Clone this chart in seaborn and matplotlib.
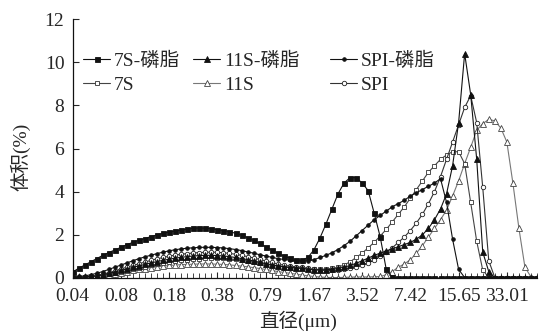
import numpy as np
import pandas as pd
import matplotlib
matplotlib.use("Agg")
import matplotlib.pyplot as plt
import seaborn as sns
from matplotlib.lines import Line2D

# ---------------- data ----------------
tick_labels = ["0.04", "0.08", "0.18", "0.38", "0.79", "1.67", "3.52", "7.42", "15.65", "33.01"]

s7S_pl = [0.28, 0.45, 0.6, 0.75, 0.9, 1.05, 1.18, 1.3, 1.42, 1.55,
          1.65, 1.75, 1.83, 1.92, 2.0, 2.07, 2.13, 2.18, 2.22, 2.26,
          2.3, 2.32, 2.3, 2.28, 2.24, 2.2, 2.15, 2.07, 1.98, 1.87,
          1.74, 1.6, 1.45, 1.3, 1.15, 1.02, 0.92, 0.85,
          0.82, 0.95, 1.3, 1.85, 2.5, 3.2, 3.9, 4.4, 4.65, 4.65,
          4.4, 4.05, 3.0, 1.9, 0.4, 0.03, 0, 0, 0, 0,
          0, 0, 0, 0, 0, 0, 0, 0, 0, 0,
          0, 0, 0, 0, 0, 0, 0, 0, 0, 0]

s11S_pl = [0.02, 0.03, 0.05, 0.07, 0.1, 0.15, 0.21, 0.28, 0.35, 0.42,
           0.49, 0.56, 0.63, 0.7, 0.76, 0.82, 0.87, 0.92, 0.96, 0.99,
           1.02, 1.04, 1.05, 1.05, 1.04, 1.02, 0.99, 0.95, 0.9, 0.85,
           0.79, 0.73, 0.67, 0.61, 0.56, 0.52, 0.49, 0.47,
           0.45, 0.4, 0.38, 0.37, 0.38, 0.4, 0.45, 0.5, 0.58, 0.68,
           0.8, 0.92, 1.05, 1.15, 1.25, 1.35, 1.45, 1.55, 1.65, 1.8,
           2.0, 2.3, 2.7, 3.2, 3.9, 5.2, 7.2, 10.4, 8.5, 5.5,
           1.2, 0.3, 0, 0, 0, 0, 0, 0, 0, 0]

sSPI_pl = [0.05, 0.07, 0.1, 0.15, 0.22, 0.3, 0.4, 0.5, 0.6, 0.7,
           0.8, 0.9, 0.98, 1.06, 1.13, 1.2, 1.26, 1.31, 1.35, 1.38,
           1.4, 1.42, 1.42, 1.42, 1.41, 1.39, 1.36, 1.32, 1.27, 1.21,
           1.15, 1.08, 1.02, 0.96, 0.9, 0.86, 0.82, 0.8,
           0.78, 0.8, 0.85, 0.95, 1.05, 1.17, 1.32, 1.5, 1.7, 1.95,
           2.2, 2.45, 2.7, 2.9, 3.1, 3.3, 3.45, 3.6, 3.8, 3.95,
           4.1, 4.25, 4.4, 4.6, 3.5, 1.8, 0.4, 0.02, 0, 0,
           0, 0, 0, 0, 0, 0, 0, 0, 0, 0]

s7S = [0.01, 0.02, 0.03, 0.05, 0.08, 0.12, 0.17, 0.22, 0.28, 0.34,
       0.4, 0.46, 0.52, 0.58, 0.64, 0.69, 0.74, 0.78, 0.82, 0.85,
       0.88, 0.9, 0.91, 0.92, 0.92, 0.91, 0.89, 0.86, 0.83, 0.79,
       0.74, 0.69, 0.64, 0.59, 0.55, 0.51, 0.48, 0.46,
       0.45, 0.42, 0.4, 0.4, 0.42, 0.45, 0.5, 0.6, 0.75, 0.95,
       1.15, 1.4, 1.65, 1.95, 2.25, 2.6, 2.95, 3.3, 3.7, 4.1,
       4.5, 4.9, 5.2, 5.5, 5.7, 5.85, 5.85, 5.3, 3.5, 1.7,
       0.37, 0.02, 0, 0, 0, 0, 0, 0, 0, 0]

s11S = [0.0, 0.0, 0.02, 0.05, 0.08, 0.12, 0.16, 0.2, 0.25, 0.3,
        0.35, 0.4, 0.44, 0.48, 0.52, 0.55, 0.58, 0.6, 0.62, 0.63,
        0.64, 0.65, 0.65, 0.65, 0.64, 0.63, 0.61, 0.58, 0.55, 0.52,
        0.48, 0.44, 0.4, 0.35, 0.3, 0.26, 0.22, 0.18,
        0.14, 0.1, 0.07, 0.05, 0.03, 0.02, 0.02, 0.03, 0.04, 0.05,
        0.05, 0.05, 0.06, 0.07, 0.15, 0.3, 0.5, 0.65, 0.85, 1.15,
        1.5, 1.9, 2.3, 2.7, 3.15, 3.8, 4.5, 5.3, 6.05, 6.85,
        7.15, 7.35, 7.28, 6.95, 6.3, 4.4, 2.3, 0.5, 0.05, 0.0]

sSPI = [0.02, 0.03, 0.05, 0.08, 0.12, 0.18, 0.25, 0.33, 0.42, 0.5,
        0.58, 0.66, 0.74, 0.82, 0.89, 0.95, 1.01, 1.06, 1.1, 1.13,
        1.16, 1.18, 1.19, 1.2, 1.19, 1.17, 1.14, 1.1, 1.05, 0.99,
        0.93, 0.86, 0.79, 0.72, 0.65, 0.59, 0.55, 0.52,
        0.5, 0.45, 0.4, 0.37, 0.35, 0.35, 0.37, 0.4, 0.45, 0.52,
        0.6, 0.7, 0.82, 1.0, 1.2, 1.4, 1.65, 1.9, 2.2, 2.55,
        2.95, 3.45, 4.0, 4.7, 5.5, 6.3, 7.1, 7.9, 8.45, 7.2,
        4.2, 0.8, 0.02, 0, 0, 0, 0, 0, 0, 0]

series = {"7S-磷脂": s7S_pl, "11S-磷脂": s11S_pl, "SPI-磷脂": sSPI_pl,
          "7S": s7S, "11S": s11S, "SPI": sSPI}
n = len(s7S_pl)
channel = np.arange(n)

# ---------------- style ----------------
sns.set_style("ticks")
FONT = ["Liberation Serif", "Noto Sans CJK SC", "DejaVu Sans"]
plt.rcParams["font.family"] = FONT
plt.rcParams["axes.unicode_minus"] = False

fig = plt.figure(figsize=(5.48, 3.31), dpi=100)
ax = fig.add_axes([72.7 / 548, 1 - 278 / 331, (537 - 72.7) / 548, (278 - 19) / 331])

styles = {
    "7S-磷脂": dict(color="#111111", marker="s", mfc="#111111", mec="#111111", ms=3.6),
    "11S-磷脂": dict(color="#111111", marker="^", mfc="#111111", mec="#111111", ms=3.8),
    "SPI-磷脂": dict(color="#111111", marker="o", mfc="#111111", mec="#111111", ms=2.6),
    "7S": dict(color="#444444", marker="s", mfc="white", mec="#333333", ms=3.4),
    "11S": dict(color="#777777", marker="^", mfc="white", mec="#444444", ms=3.8),
    "SPI": dict(color="#333333", marker="o", mfc="white", mec="#222222", ms=3.2),
}

draw_order = ["11S", "7S", "SPI", "11S-磷脂", "SPI-磷脂", "7S-磷脂"]
for name in draw_order:
    vals = series[name]
    st = styles[name]
    sns.lineplot(x=channel, y=vals, ax=ax, color=st["color"], lw=0.8,
                 marker=st["marker"], markersize=st["ms"],
                 markerfacecolor=st["mfc"], markeredgecolor=st["mec"],
                 markeredgewidth=0.6, legend=False)

ax.set_xlim(0, n - 1)
ax.set_ylim(0, 12)
ax.set_yticks([0, 2, 4, 6, 8, 10, 12])
ax.set_xticks(np.arange(0, 8 * len(tick_labels), 8))
ax.set_xticklabels(tick_labels)
ax.set_xticks(channel, minor=True)
ax.tick_params(axis="both", which="major", direction="in", labelsize=14, length=4, width=0.8)
ax.tick_params(axis="x", which="major", pad=7.5)
ax.tick_params(axis="y", which="major", pad=6)
ax.tick_params(axis="x", which="minor", direction="in", length=3.5, width=0.6)
ax.tick_params(axis="y", which="minor", left=False)
for sp in ["top", "right"]:
    ax.spines[sp].set_visible(False)
for sp in ["left", "bottom"]:
    ax.spines[sp].set_linewidth(0.9)
    ax.spines[sp].set_color("#111111")

ax.set_ylabel("体积(%)", fontsize=14, family=FONT)
ax.yaxis.set_label_coords(-0.09, 0.467)
ax.set_xlabel("直径(μm)", fontsize=14, family=FONT)
ax.xaxis.set_label_coords(0.485, -0.125)

# legend: three columns, each built as its own legend
def handle(name):
    st = styles[name]
    return Line2D([], [], color=st["color"], lw=0.8, marker=st["marker"], markersize=st["ms"],
                  markerfacecolor=st["mfc"], markeredgecolor=st["mec"], markeredgewidth=0.6)

cols = [("7S-磷脂", "7S", 83), ("11S-磷脂", "11S", 193), ("SPI-磷脂", "SPI", 330)]
for a, b, xpx in cols:
    fig.legend([handle(a), handle(b)], [a, b], loc="upper left",
                bbox_to_anchor=(xpx / 548, 1 - 52 / 331), frameon=False,
                borderpad=0, borderaxespad=0, handlelength=1.4, handletextpad=0.2,
                labelspacing=0.3, prop={"family": FONT, "size": 14})

fig.savefig("out.png", dpi=100)
